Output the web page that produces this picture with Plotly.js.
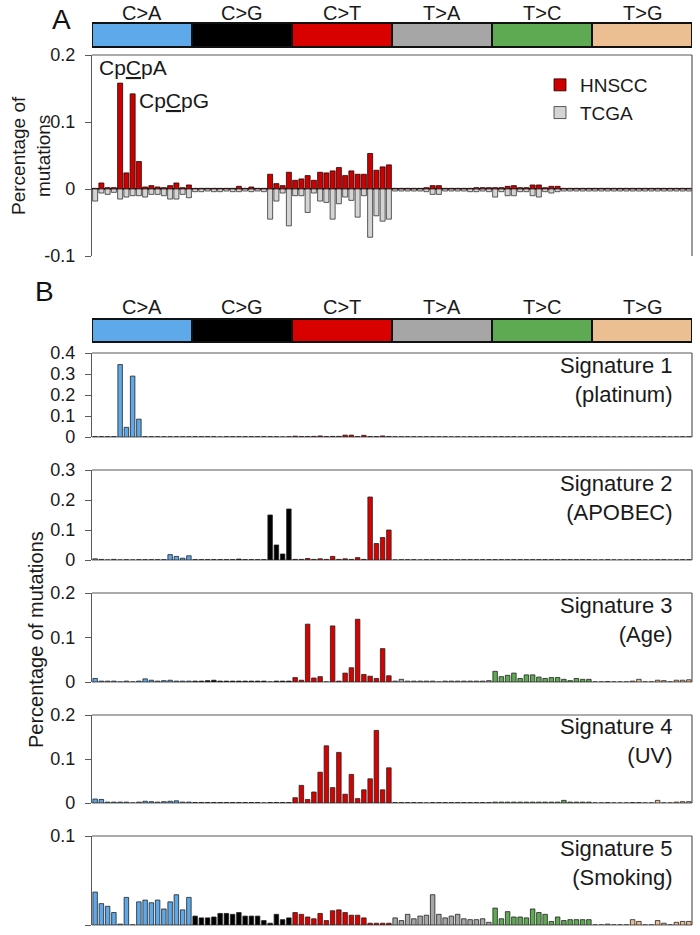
<!DOCTYPE html>
<html><head><meta charset="utf-8">
<script src="https://cdn.plot.ly/plotly-3.0.1.min.js"></script>
<style>html,body{margin:0;padding:0;background:#fff}#chart{width:700px;height:935px}</style>
</head><body><div id="chart"></div>
<script>
const mutationTypes = ['C>A','C>G','C>T','T>A','T>C','T>G'];
const typeColors = ['#5DA9E9','#000000','#D90000','#A6A6A6','#5DAA52','#EBBF92'];
const bases = ['A','C','G','T'];
const categories = [];
mutationTypes.forEach(t => bases.forEach(b5 => bases.forEach(b3 => categories.push(b5 + '[' + t + ']' + b3))));

// Panel A
const hnscc = [0.001,0.009,0.002,0.002,0.158,0.024,0.142,0.041,0.003,0.005,0.003,0.002,0.005,0.009,0.002,0.006,
 0.001,0.001,0.001,0.001,0.001,0.001,0.001,0.004,0.001,0.003,0.001,0.001,0.022,0.008,0.005,0.025,
 0.013,0.015,0.020,0.013,0.025,0.024,0.027,0.032,0.020,0.027,0.022,0.022,0.053,0.028,0.033,0.036,
 0.001,0.001,0.001,0.001,0.001,0.002,0.005,0.005,0.001,0.001,0.001,0.001,0.001,0.002,0.002,0.002,
 0.002,0.002,0.004,0.005,0.002,0.002,0.006,0.006,0.002,0.004,0.004,0.001,0.001,0.001,0.001,0.001,
 0.001,0.001,0.001,0.001,0.001,0.001,0.001,0.001,0.001,0.001,0.001,0.001,0.001,0.001,0.001,0.001];
const tcga = [-0.018,-0.006,-0.008,-0.005,-0.015,-0.012,-0.010,-0.010,-0.012,-0.008,-0.008,-0.010,-0.015,-0.015,-0.008,-0.013,
 -0.004,-0.004,-0.003,-0.004,-0.004,-0.003,-0.004,-0.004,-0.003,-0.004,-0.003,-0.004,-0.045,-0.018,-0.006,-0.055,
 -0.010,-0.010,-0.035,-0.006,-0.018,-0.020,-0.045,-0.022,-0.012,-0.017,-0.042,-0.010,-0.072,-0.040,-0.048,-0.045,
 -0.003,-0.003,-0.003,-0.003,-0.003,-0.004,-0.008,-0.008,-0.003,-0.003,-0.003,-0.003,-0.004,-0.004,-0.003,-0.004,
 -0.012,-0.004,-0.010,-0.010,-0.004,-0.004,-0.010,-0.012,-0.004,-0.006,-0.004,-0.003,-0.003,-0.003,-0.003,-0.003,
 -0.003,-0.003,-0.003,-0.003,-0.003,-0.003,-0.003,-0.003,-0.003,-0.003,-0.003,-0.003,-0.003,-0.003,-0.003,-0.003];

// Panel B signatures
const sig1 = [0.002,0.002,0.002,0.002,0.345,0.046,0.290,0.085,0.001,0.001,0.001,0.001,0.001,0.001,0.001,0.001,
 0.001,0.001,0.001,0.001,0,0.001,0.001,0.001,0.001,0.001,0.001,0.001,0.001,0.001,0,0.001,
 0.004,0.002,0.002,0.003,0.005,0.002,0.003,0.003,0.009,0.009,0.002,0.008,0.002,0.002,0.005,0.002,
 0.001,0.001,0.001,0.001,0.001,0.001,0.001,0.001,0.001,0,0.001,0,0.001,0.001,0.001,0.001,
 0.001,0.001,0.001,0.001,0,0.001,0.001,0.001,0.001,0.001,0.001,0.001,0.001,0.001,0.001,0.001,
 0,0,0.001,0,0,0,0.001,0,0,0,0.001,0.001,0,0.001,0.001,0.001];
const sig2 = [0.004,0.002,0,0.002,0,0.001,0,0.001,0.001,0.001,0.001,0.001,0.018,0.012,0.006,0.014,
 0.001,0.001,0.001,0.001,0.001,0.001,0.001,0.003,0.001,0.001,0.001,0.001,0.150,0.050,0.020,0.170,
 0.002,0.002,0.005,0.002,0.004,0.002,0.012,0.002,0.004,0.002,0.008,0.002,0.210,0.055,0.075,0.100,
 0,0.001,0.001,0.001,0,0.001,0.001,0.001,0.001,0.001,0.001,0.001,0.001,0.001,0.001,0.001,
 0.001,0.001,0.001,0.001,0.001,0.001,0.001,0.001,0.001,0.001,0.001,0.001,0.001,0.001,0.001,0.001,
 0,0,0.001,0,0,0,0.001,0.001,0,0,0.001,0.001,0,0.001,0.001,0.001];
const sig3 = [0.008,0.002,0.002,0.002,0,0.002,0,0.002,0.007,0.004,0.002,0.003,0.004,0.002,0.002,0.002,
 0.002,0.002,0.003,0.004,0.002,0.002,0.002,0.002,0.002,0.002,0.002,0.002,0,0.002,0.002,0.002,
 0.010,0.004,0.130,0.009,0.012,0,0.126,0.002,0.020,0.032,0.141,0.017,0.013,0.008,0.075,0.014,
 0.002,0.006,0.002,0.002,0.002,0.002,0.002,0,0.002,0.002,0.002,0.002,0.002,0.002,0.002,0.003,
 0.024,0.012,0.015,0.020,0.008,0.016,0.016,0.011,0.008,0.010,0.010,0.006,0.003,0.008,0.006,0.006,
 0,0,0.001,0,0,0,0.002,0.006,0,0,0.004,0.003,0,0.004,0.004,0.005];
const sig4 = [0.009,0.008,0.002,0.002,0.002,0.002,0,0.002,0.004,0.003,0.002,0.003,0.004,0.005,0.002,0.002,
 0.001,0.001,0.001,0.001,0.001,0.001,0.001,0.001,0.001,0.001,0.001,0,0.001,0.001,0.001,0.001,
 0.012,0.040,0.008,0.025,0.070,0.130,0.035,0.115,0.020,0.065,0.010,0.030,0.055,0.165,0.030,0.080,
 0.001,0.001,0.001,0.001,0.001,0,0.001,0.001,0.001,0.001,0.001,0.001,0.001,0.001,0.001,0.001,
 0.002,0.002,0.002,0.002,0.002,0.002,0.002,0.002,0.002,0.002,0.002,0.006,0.002,0.002,0.002,0.002,
 0,0,0.001,0,0,0,0.001,0.001,0,0,0.006,0,0,0.002,0.003,0.003];
const sig5 = [0.037,0.024,0.021,0.014,0.001,0.031,0,0.026,0.028,0.025,0.028,0.018,0.026,0.034,0.017,0.031,
 0.010,0.008,0.008,0.009,0.013,0.013,0.012,0.014,0.010,0.010,0.010,0.005,0.002,0.012,0.006,0.008,
 0.014,0.012,0.009,0.007,0.013,0.005,0.016,0.017,0.014,0.011,0.011,0.008,0.002,0.002,0.002,0.002,
 0.008,0.005,0.012,0.007,0.010,0.011,0.034,0.012,0.008,0.010,0.012,0.007,0.006,0.006,0.007,0.003,
 0.019,0.007,0.015,0.009,0.009,0.008,0.018,0.014,0.012,0.004,0.009,0.005,0.006,0.006,0.006,0.006,
 0,0,0.001,0,0,0,0.006,0.004,0,0,0.005,0.002,0,0.003,0.004,0.004];

const signatures = [sig1, sig2, sig3, sig4, sig5];
const signatureNames = ['Signature 1<br>(platinum)','Signature 2<br>(APOBEC)','Signature 3<br>(Age)','Signature 4<br>(UV)','Signature 5<br>(Smoking)'];
const sigRanges = [[0,0.4],[0,0.3],[0,0.2],[0,0.2],[0,0.1]];
const sigTicks = [[0,0.1,0.2,0.3,0.4],[0,0.1,0.2,0.3],[0,0.1,0.2],[0,0.1,0.2],[0,0.1]];
const aTicks = [-0.1,0,0.1,0.2];
const aTickText = ['-0.1','0','0.1','0.2'];

const FONT = 'Liberation Sans, Arial, sans-serif';
const TXT = '#1a1a1a';
const H = 935, W = 700;
const py = v => 1 - v / H;

const barColors = categories.map((c, i) => typeColors[Math.floor(i / 16)]);

const traces = [
  {type:'bar', name:'HNSCC', x:categories, y:hnscc, xaxis:'x', yaxis:'y', width:0.8,
   marker:{color:'#CC0000', line:{color:'#2a0000', width:0.8}}},
  {type:'bar', name:'TCGA', x:categories, y:tcga, xaxis:'x', yaxis:'y', width:0.8,
   marker:{color:'#D4D4D4', line:{color:'#333333', width:0.8}}}
];
signatures.forEach((s, k) => traces.push({type:'bar', name:signatureNames[k], x:categories, y:s,
  xaxis:'x', yaxis:'y' + (k + 2), width:0.72, showlegend:false,
  marker:{color:barColors, line:{color:'#222222', width:0.8}}}));

// pixel frames of the panels (top, bottom)
const frames = [[55,256],[353,437],[470,560],[593,682],[715,803],[836,925]];

function yax(fr, range, tickvals, ticktext, zc) {
  return {domain:[py(fr[1]), py(fr[0])], range:range, tickvals:tickvals, ticktext:ticktext,
    showline:true, linecolor:'#595959', linewidth:1.2, ticks:'outside', ticklen:6, tickcolor:'#595959',
    showgrid:false, zeroline:true, zerolinecolor:zc, zerolinewidth:1.2, anchor:'x',
    tickfont:{size:18, color:TXT, family:FONT}, fixedrange:true, ticklabelstandoff:6};
}

const layout = {
  width:W, height:H, margin:{l:0,r:0,t:0,b:0}, paper_bgcolor:'#fff', plot_bgcolor:'rgba(0,0,0,0)',
  font:{family:FONT, color:TXT}, barmode:'overlay', bargap:0.2,
  showlegend:true,
  legend:{x:540/W, y:py(66), xanchor:'left', yanchor:'top', font:{size:19, color:TXT, family:FONT}, bgcolor:'rgba(0,0,0,0)', tracegroupgap:0},
  xaxis:{domain:[92/W, 692/W], type:'category', range:[-0.5, 95.5], showticklabels:false, ticks:'', showline:false, showgrid:false, zeroline:false, anchor:'y', fixedrange:true},
  yaxis: yax(frames[0], [-0.1,0.2], aTicks, aTickText, '#222222'),
  shapes:[], annotations:[]
};
signatures.forEach((s, k) => {
  layout['yaxis' + (k + 2)] = yax(frames[k + 1], sigRanges[k], sigTicks[k], sigTicks[k].map(String), '#b0b0b0');
});

// frame lines (top and right)
['y','y2','y3','y4','y5','y6'].forEach(ya => {
  layout.shapes.push({type:'line', xref:'x domain', yref:ya + ' domain', x0:0, x1:1, y0:1, y1:1, line:{color:'#595959', width:1.2}});
  layout.shapes.push({type:'line', xref:'x domain', yref:ya + ' domain', x0:1, x1:1, y0:0, y1:1, line:{color:'#595959', width:1.2}});
});

// mutation-type header bars
const headers = [[23,47,13],[319,342,307]];
headers.forEach(h => {
  mutationTypes.forEach((t, k) => {
    layout.shapes.push({type:'rect', xref:'x', yref:'paper', x0:16 * k - 0.5, x1:16 * k + 15.5, y0:py(h[1]), y1:py(h[0]),
      fillcolor:typeColors[k], line:{color:'#111111', width:2}});
    layout.annotations.push({xref:'x', yref:'paper', x:16 * k + 7.5, y:py(h[2]), text:t, showarrow:false,
      xanchor:'center', yanchor:'middle', font:{size:20, color:TXT, family:FONT}});
  });
});

// signature labels
const sigLabelY = [380, 498, 620, 741, 863];
signatureNames.forEach((n, k) => layout.annotations.push({xref:'paper', yref:'paper', x:675 / W, y:py(sigLabelY[k]),
  text:n, showarrow:false, xanchor:'right', yanchor:'middle', align:'right', font:{size:22, color:TXT, family:FONT}}));

// context labels
layout.annotations.push({xref:'x', yref:'y', x:4, y:hnscc[4], text:'Cp<u>C</u>pA', showarrow:false,
  xanchor:'left', yanchor:'middle', xshift:-23, yshift:16, font:{size:21, color:TXT, family:FONT}});
layout.annotations.push({xref:'x', yref:'y', x:6, y:hnscc[6], text:'Cp<u>C</u>pG', showarrow:false,
  xanchor:'left', yanchor:'middle', xshift:4, yshift:-7, font:{size:21, color:TXT, family:FONT}});

// axis titles and panel letters
layout.annotations.push({xref:'paper', yref:'paper', x:31 / W, y:py(155), text:'Percentage of<br>mutations', textangle:-90,
  showarrow:false, xanchor:'center', yanchor:'middle', font:{size:19, color:TXT, family:FONT}});
layout.annotations.push({xref:'paper', yref:'paper', x:36 / W, y:py(640), text:'Percentage of mutations', textangle:-90,
  showarrow:false, xanchor:'center', yanchor:'middle', font:{size:20, color:TXT, family:FONT}});
layout.annotations.push({xref:'paper', yref:'paper', x:62 / W, y:py(20), text:'A', showarrow:false,
  xanchor:'center', yanchor:'middle', font:{size:28, color:'#111', family:FONT}});
layout.annotations.push({xref:'paper', yref:'paper', x:45 / W, y:py(291), text:'B', showarrow:false,
  xanchor:'center', yanchor:'middle', font:{size:28, color:'#111', family:FONT}});

Plotly.newPlot('chart', traces, layout, {staticPlot:true, displayModeBar:false});
</script>
</body></html>
